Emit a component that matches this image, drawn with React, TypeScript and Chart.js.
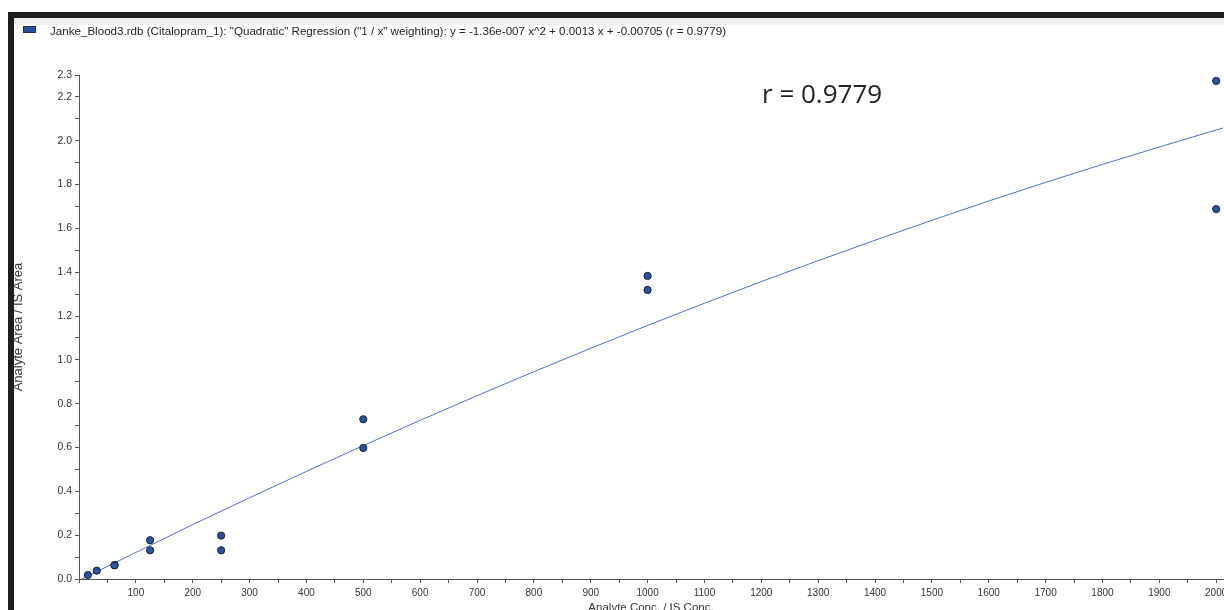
import React, { useEffect, useRef } from "react";
import { Chart, registerables } from "chart.js";

Chart.register(...registerables);

// Calibration samples (Analyte Conc. / IS Conc. vs Analyte Area / IS Area)
const concValues = [15.625, 31.25, 62.5, 62.5, 125, 125, 250, 250, 500, 500, 1000, 1000, 2000, 2000];
const ratioValues = [0.018, 0.038, 0.064, 0.062, 0.177, 0.131, 0.198, 0.131, 0.729, 0.598, 1.383, 1.319, 2.273, 1.688];

// Regression curve
const fitConc = [0, 200, 400, 600, 800, 1000, 1200, 1400, 1600, 1800, 2000, 2030];
const fitRatio = [-0.007, 0.248, 0.491, 0.724, 0.946, 1.157, 1.357, 1.546, 1.725, 1.892, 2.049, 2.072];

const yTickValues = [0, 0.1, 0.2, 0.3, 0.4, 0.5, 0.6, 0.7, 0.8, 0.9, 1.0, 1.1, 1.2, 1.3, 1.4, 1.5, 1.6, 1.7, 1.8, 1.9, 2.0, 2.1, 2.2, 2.3];
const yLabelledTicks = [0, 0.2, 0.4, 0.6, 0.8, 1.0, 1.2, 1.4, 1.6, 1.8, 2.0, 2.2, 2.3];
const xTickValues = [0, 50, 100, 150, 200, 250, 300, 350, 400, 450, 500, 550, 600, 650, 700, 750, 800, 850, 900, 950, 1000, 1050, 1100, 1150, 1200, 1250, 1300, 1350, 1400, 1450, 1500, 1550, 1600, 1650, 1700, 1750, 1800, 1850, 1900, 1950, 2000];
const xLabelledTicks = [100, 200, 300, 400, 500, 600, 700, 800, 900, 1000, 1100, 1200, 1300, 1400, 1500, 1600, 1700, 1800, 1900, 2000];

const legendText =
  'Janke_Blood3.rdb (Citalopram_1): "Quadratic" Regression ("1 / x" weighting): y = -1.36e-007 x^2 + 0.0013 x + -0.00705 (r = 0.9779)';
const annotationText = "r = 0.9779";

const FONT = "'Liberation Sans', Arial, sans-serif";

const legendPlugin = {
  id: "customLegend",
  afterDraw(chart: any) {
    const ctx = chart.ctx;
    ctx.save();
    ctx.fillStyle = "#2a4e9e";
    ctx.fillRect(23, 26, 13, 7);
    ctx.strokeStyle = "#1b2d5e";
    ctx.lineWidth = 1;
    ctx.strokeRect(23.5, 26.5, 12, 6);
    ctx.fillStyle = "#222";
    ctx.font = "11.6px " + FONT;
    ctx.textBaseline = "middle";
    ctx.textAlign = "left";
    ctx.fillText(chart.data.datasets[1].label, 50, 31.5);
    ctx.font = "26px 'Open Sans', 'Noto Sans', sans-serif";
    ctx.fillStyle = "#222";
    ctx.textBaseline = "alphabetic";
    ctx.fillText(annotationText, 762, 103);
    ctx.restore();
  },
};

export default function App() {
  const ref = useRef<HTMLCanvasElement | null>(null);

  useEffect(() => {
    if (!ref.current) return;
    const chart = new Chart(ref.current, {
      type: "scatter",
      data: {
        datasets: [
          {
            label: "Samples",
            data: concValues.map((x, i) => ({ x, y: ratioValues[i] })),
            backgroundColor: "#2c51a3",
            borderColor: "#1a1f33",
            borderWidth: 1,
            pointRadius: 3.6,
            order: 0,
          },
          {
            type: "line",
            label: legendText,
            data: fitConc.map((x, i) => ({ x, y: fitRatio[i] })),
            borderColor: "#4f6fc0",
            borderWidth: 1,
            pointRadius: 0,
            cubicInterpolationMode: "monotone",
            fill: false,
            order: 1,
          } as any,
        ],
      },
      options: {
        responsive: false,
        animation: false,
        events: [],
        layout: { padding: { top: 75, left: 0, right: 27, bottom: 0 } },
        plugins: {
          legend: { display: false },
          tooltip: { enabled: false },
        },
        scales: {
          x: {
            type: "linear",
            min: 0,
            max: 2012,
            afterFit: (s: any) => {
              s.height = 51;
            },
            afterBuildTicks: (s: any) => {
              s.ticks = xTickValues.map((v) => ({ value: v }));
            },
            border: { display: true, color: "#555", width: 1 },
            grid: { drawOnChartArea: false, drawTicks: true, tickLength: 4, color: "#555" },
            ticks: {
              autoSkip: false,
              maxRotation: 0,
              padding: 4,
              color: "#333",
              font: { family: FONT, size: 10 },
              callback: (v: any) => (xLabelledTicks.includes(Number(v)) ? String(v) : ""),
            },
            title: {
              display: true,
              text: "Analyte Conc. / IS Conc.",
              color: "#333",
              font: { family: FONT, size: 11.5 },
              padding: { top: 0, bottom: 15 },
            },
          },
          y: {
            type: "linear",
            min: 0,
            max: 2.3,
            afterFit: (s: any) => {
              s.width = 79;
            },
            afterBuildTicks: (s: any) => {
              s.ticks = yTickValues.map((v) => ({ value: v }));
            },
            border: { display: true, color: "#555", width: 1 },
            grid: { drawOnChartArea: false, drawTicks: true, tickLength: 4, color: "#555" },
            ticks: {
              autoSkip: false,
              padding: 3,
              color: "#333",
              font: { family: FONT, size: 10.5 },
              callback: (v: any) => {
                const n = Number(v);
                return yLabelledTicks.some((t) => Math.abs(t - n) < 1e-6) ? n.toFixed(1) : "";
              },
            },
            title: {
              display: true,
              text: "Analyte Area / IS Area",
              color: "#333",
              font: { family: FONT, size: 13 },
              padding: { top: 11, bottom: 0 },
            },
          },
        },
      },
      plugins: [legendPlugin],
    });
    return () => chart.destroy();
  }, []);

  return (
    <div
      style={{
        position: "absolute",
        left: 0,
        top: 0,
        width: 1224,
        height: 610,
        overflow: "hidden",
        background: "#fff",
      }}
    >
      <canvas ref={ref} width={1250} height={630} style={{ position: "absolute", left: 0, top: 0, width: 1250, height: 630 }} />
      <div style={{ position: "absolute", left: 14, top: 18, width: 1210, height: 7, background: "#eff1ef" }} />
      <div style={{ position: "absolute", left: 8, top: 12, width: 1216, height: 6, background: "#1e1e1e" }} />
      <div style={{ position: "absolute", left: 8, top: 12, width: 6, height: 598, background: "#1e1e1e" }} />
    </div>
  );
}
